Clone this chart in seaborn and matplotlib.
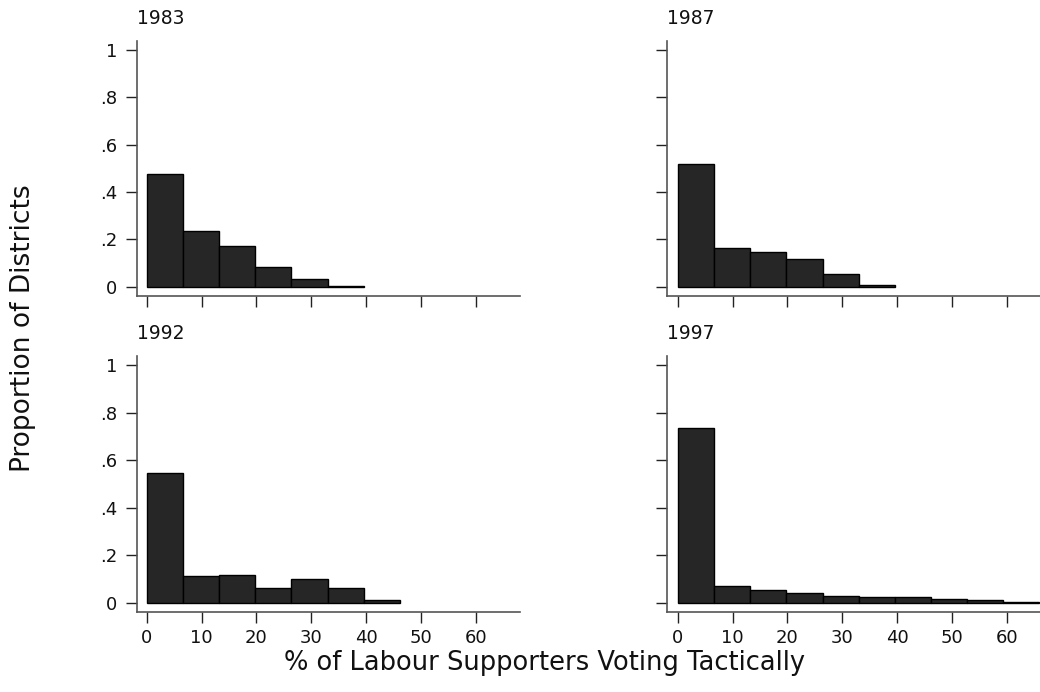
import numpy as np
import pandas as pd
import matplotlib
matplotlib.use("Agg")
import matplotlib.pyplot as plt
import seaborn as sns

# ---- data ----
years = ["1983", "1987", "1992", "1997"]
bin_width = 6.6
prop_1983 = [0.475, 0.233, 0.172, 0.081, 0.032, 0.004]
prop_1987 = [0.517, 0.165, 0.144, 0.115, 0.055, 0.005]
prop_1992 = [0.547, 0.113, 0.117, 0.061, 0.099, 0.059, 0.010]
prop_1997 = [0.733, 0.069, 0.054, 0.040, 0.027, 0.025, 0.025, 0.014, 0.011, 0.003]
x_ticks = [0, 10, 20, 30, 40, 50, 60]
y_ticks = [0, 0.2, 0.4, 0.6, 0.8, 1.0]
y_tick_labels = ["0", ".2", ".4", ".6", ".8", "1"]
x_label = "% of Labour Supporters Voting Tactically"
y_label = "Proportion of Districts"

props = {"1983": prop_1983, "1987": prop_1987, "1992": prop_1992, "1997": prop_1997}

sns.set_style("ticks")
plt.rcParams["font.family"] = ["DejaVu Sans"]

W, H = 1040, 692
fig = plt.figure(figsize=(W / 100, H / 100), dpi=100)
fig.patch.set_facecolor("white")

# panel boxes in pixels: (left, top, right, bottom)
boxes = {
    "1983": (137, 41, 520, 296),
    "1987": (667, 41, 1040, 296),
    "1992": (137, 356, 520, 612),
    "1997": (667, 356, 1040, 612),
}
xlims = {"1983": (-1.77, 68.1), "1992": (-1.77, 68.1),
         "1987": (-2.0, 66.1), "1997": (-2.0, 66.1)}

for yr in years:
    l, t, r, b = boxes[yr]
    ax = fig.add_axes([l / W, 1 - b / H, (r - l) / W, (b - t) / H])
    p = props[yr]
    n = len(p)
    df = pd.DataFrame({
        "center": [(i + 0.5) * bin_width for i in range(n)],
        "prop": p,
    })
    sns.histplot(data=df, x="center", weights="prop",
                 binwidth=bin_width, binrange=(0, n * bin_width), stat="count",
                 color="#262626", edgecolor="black", linewidth=1.0, alpha=1.0,
                 ax=ax)
    ax.set_xlim(*xlims[yr])
    ax.set_ylim(-0.04, 1.038)
    ax.set_xticks(x_ticks)
    ax.set_yticks(y_ticks)
    ax.set_xlabel("")
    ax.set_ylabel("")
    for s in ["top", "right"]:
        ax.spines[s].set_visible(False)
    for s in ["left", "bottom"]:
        ax.spines[s].set_color("#555555")
        ax.spines[s].set_linewidth(1.2)
    ax.tick_params(axis="both", direction="out", length=8, width=1.0,
                   color="#222222", labelsize=13, labelcolor="#111111")
    ax.tick_params(axis="y", pad=6)
    ax.tick_params(axis="x", pad=4)
    if yr in ("1983", "1992"):
        ax.set_yticklabels(y_tick_labels)
    else:
        ax.set_yticklabels([])
    if yr in ("1992", "1997"):
        ax.set_xticklabels([str(v) for v in x_ticks])
    else:
        ax.set_xticklabels([])
    ax.set_title(yr, loc="left", fontsize=13.5, pad=12.5, color="#111111")
    ax.set_facecolor("white")

fig.text(23 / W, 1 - 328 / H, y_label, rotation=90, ha="center", va="center",
         fontsize=19, color="#111111")
fig.text(545 / W, 1 - 663 / H, x_label, ha="center", va="center",
         fontsize=18.5, color="#111111")

fig.savefig("out.png", dpi=100, facecolor="white")
